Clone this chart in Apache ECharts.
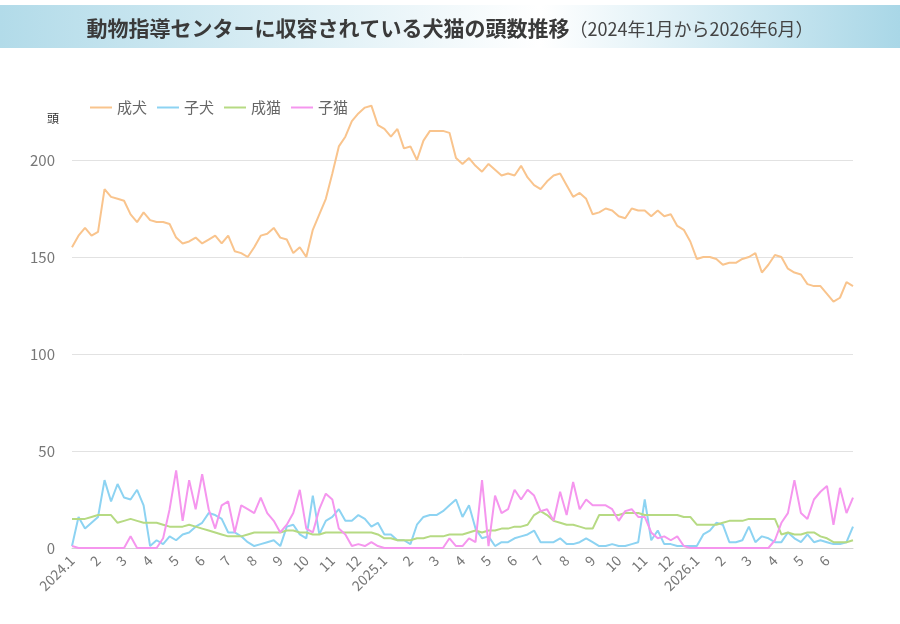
<!DOCTYPE html>
<html>
<head>
<meta charset="utf-8">
<script src="https://cdn.jsdelivr.net/npm/echarts@6/dist/echarts.min.js"></script>
<style>
  html, body { margin: 0; padding: 0; background: #fff; }
  #chart { width: 900px; height: 624px; }
</style>
</head>
<body>
<div id="chart"></div>
<script>
// month tick labels (one label per month, 4 readings per month + month-end point)
const monthLabels = [
  "2024.1", "2", "3", "4", "5", "6", "7", "8", "9", "10", "11", "12",
  "2025.1", "2", "3", "4", "5", "6", "7", "8", "9", "10", "11", "12",
  "2026.1", "2", "3", "4", "5", "6"
];

// 成犬
const adultDogs = [
  155, 161, 165, 161,  163, 185, 181, 180,  179, 172, 168, 173,  169, 168, 168, 167,
  160, 157, 158, 160,  157, 159, 161, 157,  161, 153, 152, 150,  155, 161, 162, 165,
  160, 159, 152, 155,  150, 164, 172, 180,  193, 207, 212, 220,  224, 227, 228, 218,
  216, 212, 216, 206,  207, 200, 210, 215,  215, 215, 214, 201,  198, 201, 197, 194,
  198, 195, 192, 193,  192, 197, 191, 187,  185, 189, 192, 193,  187, 181, 183, 180,
  172, 173, 175, 174,  171, 170, 175, 174,  174, 171, 174, 171,  172, 166, 164, 158,
  149, 150, 150, 149,  146, 147, 147, 149,  150, 152, 142, 146,  151, 150, 144, 142,
  141, 136, 135, 135,  131, 127, 129, 137,  135
];

// 子犬
const puppies = [
  1, 16, 10, 13,  16, 35, 24, 33,  26, 25, 30, 22,  1, 4, 2, 6,
  4, 7, 8, 11,  13, 18, 17, 15,  8, 8, 6, 3,  1, 2, 3, 4,
  1, 11, 12, 7,  5, 27, 7, 14,  16, 20, 14, 14,  17, 15, 11, 13,
  7, 7, 4, 4,  2, 12, 16, 17,  17, 19, 22, 25,  16, 22, 10, 5,
  6, 1, 3, 3,  5, 6, 7, 9,  3, 3, 3, 5,  2, 2, 3, 5,
  3, 1, 1, 2,  1, 1, 2, 3,  25, 4, 9, 2,  2, 1, 1, 1,
  1, 7, 9, 13,  12, 3, 3, 4,  11, 3, 6, 5,  3, 3, 8, 5,
  3, 7, 3, 4,  3, 2, 2, 3,  11
];

// 成猫
const adultCats = [
  15, 15, 15, 16,  17, 17, 17, 13,  14, 15, 14, 13,  13, 13, 12, 11,
  11, 11, 12, 11,  10, 9, 8, 7,  6, 6, 6, 7,  8, 8, 8, 8,
  8, 9, 9, 8,  8, 7, 7, 8,  8, 8, 8, 8,  8, 8, 8, 7,
  5, 5, 4, 4,  4, 5, 5, 6,  6, 6, 7, 7,  7, 8, 9, 8,
  9, 9, 10, 10,  11, 11, 12, 17,  19, 17, 14, 13,  12, 12, 11, 10,
  10, 17, 17, 17,  17, 18, 18, 18,  17, 17, 17, 17,  17, 17, 16, 16,
  12, 12, 12, 12,  13, 14, 14, 14,  15, 15, 15, 15,  15, 7, 8, 7,
  7, 8, 8, 6,  5, 3, 3, 3,  4
];

// 子猫
const kittens = [
  1, 0, 0, 0,  0, 0, 0, 0,  0, 6, 0, 0,  0, 0, 5, 20,
  40, 14, 35, 20,  38, 20, 10, 22,  24, 8, 22, 20,  18, 26, 18, 14,
  8, 12, 18, 30,  10, 8, 20, 28,  25, 10, 7, 1,  2, 1, 3, 1,
  0, 0, 0, 0,  0, 0, 0, 0,  0, 0, 5, 1,  1, 5, 3, 35,
  1, 27, 18, 20,  30, 25, 30, 27,  19, 20, 14, 29,  17, 34, 20, 25,
  22, 22, 22, 20,  14, 19, 20, 16,  16, 8, 5, 6,  4, 6, 1, 0,
  0, 0, 0, 0,  0, 0, 0, 0,  0, 0, 0, 0,  4, 13, 18, 35,
  18, 15, 25, 29,  32, 12, 31, 18,  26
];

const categories = [];
monthLabels.forEach((m, i) => {
  for (let k = 0; k < 4; k++) categories.push(i + "-" + k);
});
categories.push("end");

const font = '"Noto Sans CJK JP", "Noto Sans", sans-serif';
const chart = echarts.init(document.getElementById("chart"));

const mkSeries = (name, data, color) => ({
  name: name,
  type: "line",
  data: data,
  symbol: "none",
  clip: false,
  lineStyle: { width: 2, color: color },
  itemStyle: { color: color },
});

const option = {
  animation: false,
  textStyle: { fontFamily: font },
  graphic: [
    {
      type: "rect",
      z: 0,
      shape: { x: 0, y: 5, width: 900, height: 43 },
      style: {
        fill: new echarts.graphic.LinearGradient(0, 0, 1, 0, [
          { offset: 0, color: "#b2dbe9" },
          { offset: 0.6, color: "#ffffff" },
          { offset: 1, color: "#a9d7e7" },
        ]),
      },
    },
  ],
  title: {
    left: "center",
    top: 13,
    z: 10,
    text: "{b|動物指導センターに収容されている犬猫の頭数推移}{s|（2024年1月から2026年6月）}",
    textStyle: {
      rich: {
        b: { fontSize: 21, fontWeight: "bold", color: "#3a3a3a", fontFamily: font },
        s: { fontSize: 18, fontWeight: "normal", color: "#444", fontFamily: font, padding: [2, 0, 0, 0] },
      },
    },
  },
  legend: {
    left: 85,
    top: 95,
    icon: "rect",
    itemWidth: 22,
    itemHeight: 2,
    itemGap: 10,
    textStyle: { fontSize: 15, color: "#666", fontFamily: font },
    data: ["成犬", "子犬", "成猫", "子猫"],
  },
  grid: { left: 72, right: 47, top: 160, bottom: 76, containLabel: false },
  xAxis: {
    type: "category",
    data: categories,
    boundaryGap: false,
    axisLine: { lineStyle: { color: "#d4d4d4" } },
    axisTick: { show: false },
    axisLabel: {
      interval: 3,
      rotate: 45,
      fontSize: 14,
      color: "#777",
      margin: 10,
      formatter: (v) => {
        const p = v.split("-");
        return p[1] === "0" ? monthLabels[+p[0]] : "";
      },
    },
    splitLine: { show: false },
  },
  yAxis: {
    type: "value",
    min: 0,
    max: 200,
    interval: 50,
    name: "頭",
    nameGap: 36,
    nameTextStyle: { fontSize: 12, color: "#333", align: "right", padding: [0, 13, 0, 0] },
    axisLine: { show: false },
    axisTick: { show: false },
    axisLabel: { fontSize: 15, color: "#777", margin: 17 },
    splitLine: { lineStyle: { color: "#e2e2e2" } },
  },
  series: [
    mkSeries("成犬", adultDogs, "#f9c48d"),
    mkSeries("子犬", puppies, "#8dd3f2"),
    mkSeries("成猫", adultCats, "#b6da83"),
    mkSeries("子猫", kittens, "#f596ee"),
  ],
};

chart.setOption(option);
</script>
</body>
</html>
